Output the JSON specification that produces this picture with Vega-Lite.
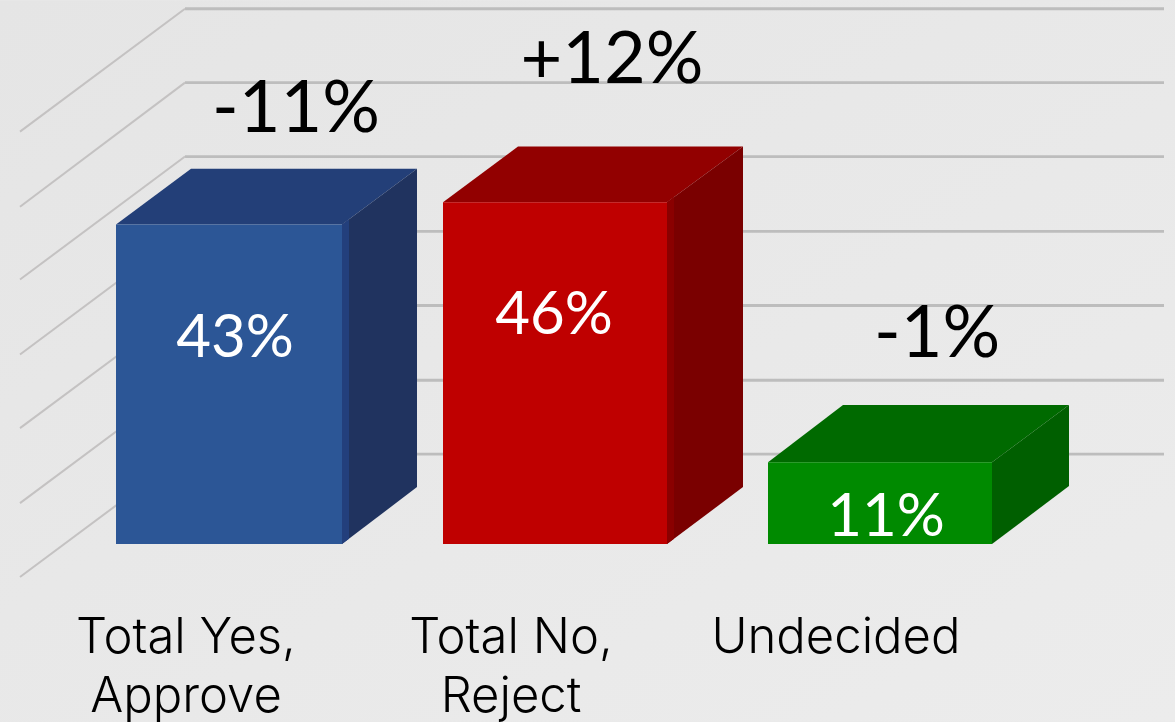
{
"$schema":"https://vega.github.io/schema/vega-lite/v6.json",
"width":1175,"height":722,
"autosize":{"type":"fit","contains":"padding"},
"padding":0,
"background":"#e8e8e8",
"config":{"view":{"stroke":null}},
"datasets":{
"backdrop":[{"x0":0,"x1":1175,"y0":-23.92,"y1":73.12}],
"bars":[
{"category":"Total Yes, Approve","value":43,"left":116,"right":342},
{"category":"Total No, Reject","value":46,"left":443,"right":667},
{"category":"Undecided","value":11,"left":768,"right":992}],
"walls":[
{"line":"0","x":185,"level":12.1},{"line":"0","x":1164,"level":12.1},
{"line":"10","x":185,"level":22.04},{"line":"10","x":1164,"level":22.04},
{"line":"20","x":185,"level":32.1},{"line":"20","x":1164,"level":32.1},
{"line":"30","x":185,"level":42.07},{"line":"30","x":1164,"level":42.07},
{"line":"40","x":185,"level":52.15},{"line":"40","x":1164,"level":52.15},
{"line":"50","x":185,"level":62.1},{"line":"50","x":1164,"level":62.1},
{"line":"60","x":185,"level":72.04},{"line":"60","x":1164,"level":72.04}],
"sides":[
{"line":"0","x":20,"level":-4.44},{"line":"0","x":185,"level":12.1},
{"line":"10","x":20,"level":5.5},{"line":"10","x":185,"level":22.04},
{"line":"20","x":20,"level":15.6},{"line":"20","x":185,"level":32.1},
{"line":"30","x":20,"level":25.5},{"line":"30","x":185,"level":42.07},
{"line":"40","x":20,"level":35.6},{"line":"40","x":185,"level":52.15},
{"line":"50","x":20,"level":45.4},{"line":"50","x":185,"level":62.1},
{"line":"60","x":20,"level":55.5},{"line":"60","x":185,"level":72.04}],
"faces":[
{"face":"yes top","x":116,"upper":43,"lower":43},{"face":"yes top","x":191,"upper":50.5,"lower":43},{"face":"yes top","x":342,"upper":50.5,"lower":43},{"face":"yes top","x":417,"upper":50.5,"lower":50.5},
{"face":"yes side","x":342,"upper":43,"lower":0},{"face":"yes side","x":417,"upper":50.5,"lower":7.66},
{"face":"yes edge","x":342,"upper":43,"lower":0},{"face":"yes edge","x":349,"upper":43.7,"lower":0.72},
{"face":"no top","x":443,"upper":46,"lower":46},{"face":"no top","x":518,"upper":53.5,"lower":46},{"face":"no top","x":667,"upper":53.5,"lower":46},{"face":"no top","x":743,"upper":53.5,"lower":53.5},
{"face":"no side","x":667,"upper":46,"lower":0},{"face":"no side","x":743,"upper":53.5,"lower":7.66},
{"face":"no edge","x":667,"upper":46,"lower":0},{"face":"no edge","x":674,"upper":46.7,"lower":0.72},
{"face":"undecided top","x":768,"upper":11,"lower":11},{"face":"undecided top","x":843,"upper":18.7,"lower":11},{"face":"undecided top","x":992,"upper":18.7,"lower":11},{"face":"undecided top","x":1069,"upper":18.7,"lower":18.7},
{"face":"undecided side","x":992,"upper":11,"lower":0},{"face":"undecided side","x":1069,"upper":18.7,"lower":7.8}],
"changes":[
{"text":"-11%","x":296,"level":55.4},{"text":"+12%","x":612,"level":62.1},{"text":"-1%","x":937,"level":25.2}],
"inner":[
{"text":"43%","x":235,"level":25.2},{"text":"46%","x":554,"level":28.3},{"text":"11%","x":886,"level":1.1}],
"cats":[
{"text":"Total Yes,","x":186,"level":-14.7},{"text":"Approve","x":186,"level":-22.6},
{"text":"Total No,","x":511,"level":-14.7},{"text":"Reject","x":511,"level":-22.6},
{"text":"Undecided","x":836,"level":-14.7}]
},
"layer":[
{"data":{"name":"backdrop"},"mark":{"type":"rect","color":{"gradient":"linear","x1":0,"y1":0,"x2":1,"y2":1,"stops":[{"offset":0,"color":"#e5e5e5"},{"offset":1,"color":"#ececec"}]}},
 "encoding":{"x":{"field":"x0","type":"quantitative","scale":{"domain":[0,1175],"nice":false,"zero":false},"axis":null},"x2":{"field":"x1"},"y":{"field":"y0","type":"quantitative","scale":{"domain":[-23.82,73.22],"nice":false,"zero":false},"axis":null},"y2":{"field":"y1"}}},
{"data":{"name":"walls"},"mark":{"type":"line","stroke":"#bdbdbd","strokeWidth":2.8},
 "encoding":{"x":{"field":"x","type":"quantitative"},"y":{"field":"level","type":"quantitative"},"detail":{"field":"line"}}},
{"data":{"name":"sides"},"mark":{"type":"line","stroke":"#c4c2c2","strokeWidth":2},
 "encoding":{"x":{"field":"x","type":"quantitative"},"y":{"field":"level","type":"quantitative"},"detail":{"field":"line"}}},
{"data":{"name":"faces"},"mark":{"type":"area","interpolate":"linear","opacity":1},
 "encoding":{"x":{"field":"x","type":"quantitative"},"y":{"field":"upper","type":"quantitative"},"y2":{"field":"lower"},
 "color":{"field":"face","type":"nominal","legend":null,"sort":null,"scale":{"domain":["yes top","yes side","yes edge","no top","no side","no edge","undecided top","undecided side"],"range":["#233f78","#20335f","#233f7c","#920000","#7a0000","#8a0000","#006a00","#005f00"]}},
 "order":{"field":"face"}}},
{"data":{"name":"bars"},"mark":{"type":"rect"},
 "encoding":{"x":{"field":"left","type":"quantitative"},"x2":{"field":"right"},"y":{"field":"value","type":"quantitative"},"y2":{"datum":0},
 "color":{"field":"category","type":"nominal","legend":null,"scale":{"domain":["Total Yes, Approve","Total No, Reject","Undecided"],"range":["#2c5696","#bf0000","#008a00"]}}}},
{"data":{"name":"changes"},"mark":{"type":"text","font":"Lato","fontWeight":400,"fontSize":72,"color":"#000000","align":"center","baseline":"alphabetic"},
 "encoding":{"x":{"field":"x","type":"quantitative"},"y":{"field":"level","type":"quantitative"},"text":{"field":"text"}}},
{"data":{"name":"inner"},"mark":{"type":"text","font":"Lato","fontWeight":400,"fontSize":60,"color":"#ffffff","align":"center","baseline":"alphabetic"},
 "encoding":{"x":{"field":"x","type":"quantitative"},"y":{"field":"level","type":"quantitative"},"text":{"field":"text"}}},
{"data":{"name":"cats"},"mark":{"type":"text","font":"Inter","fontWeight":300,"fontSize":49,"color":"#000000","align":"center","baseline":"alphabetic"},
 "encoding":{"x":{"field":"x","type":"quantitative"},"y":{"field":"level","type":"quantitative"},"text":{"field":"text"}}}
],
"resolve":{"scale":{"color":"independent"}}
}
